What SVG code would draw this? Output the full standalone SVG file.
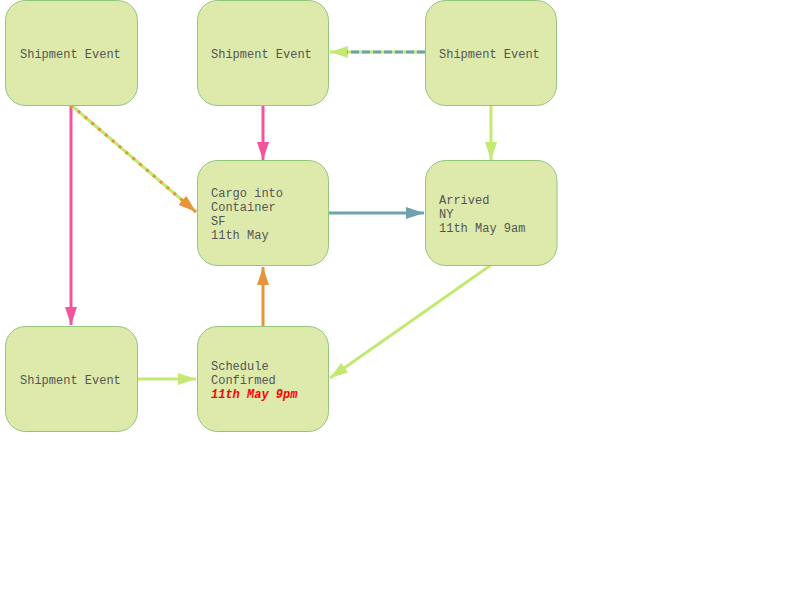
<svg xmlns="http://www.w3.org/2000/svg" width="800" height="600" viewBox="0 0 800 600">
<style>
.node rect{fill:#ddeaac;stroke:#93c57a;stroke-width:1}
.node text{font-family:"Liberation Mono","Courier New",monospace;font-size:12px;fill:#555}
.red{fill:#ff0000 !important;font-weight:bold;font-style:italic}
.e{fill:none;stroke-width:3}
</style>
<defs>
<marker id="aPink" markerUnits="userSpaceOnUse" markerWidth="19" markerHeight="14" refX="18" refY="6" orient="auto"><path d="M0,0 L18,6 L0,12 z" fill="#f2559d"/></marker>
<marker id="aGreen" markerUnits="userSpaceOnUse" markerWidth="19" markerHeight="14" refX="18" refY="6" orient="auto"><path d="M0,0 L18,6 L0,12 z" fill="#c3e972"/></marker>
<marker id="aTeal" markerUnits="userSpaceOnUse" markerWidth="19" markerHeight="14" refX="18" refY="6" orient="auto"><path d="M0,0 L18,6 L0,12 z" fill="#6fa2ad"/></marker>
<marker id="aOrange" markerUnits="userSpaceOnUse" markerWidth="19" markerHeight="14" refX="18" refY="6" orient="auto"><path d="M0,0 L18,6 L0,12 z" fill="#e8943a"/></marker>
</defs>
<rect width="800" height="600" fill="#fff"/>
<g id="connectors">
<line class="e" x1="71" y1="105" x2="71" y2="325" stroke="#f2559d" marker-end="url(#aPink)"/>
<line class="e" x1="71" y1="105" x2="196" y2="212" stroke="#c3e972"/>
<line class="e" x1="71" y1="105" x2="196" y2="212" stroke="#e8943a" stroke-dasharray="3 6" marker-end="url(#aOrange)"/>
<line class="e" x1="263" y1="105" x2="263" y2="160" stroke="#f2559d" marker-end="url(#aPink)"/>
<line class="e" x1="425" y1="52" x2="330" y2="52" stroke="#c3e972" marker-end="url(#aGreen)"/>
<line class="e" x1="425" y1="52" x2="347" y2="52" stroke="#6fa2ad" stroke-dasharray="8 3"/>
<line class="e" x1="491" y1="105" x2="491" y2="160" stroke="#c3e972" marker-end="url(#aGreen)"/>
<line class="e" x1="328" y1="213" x2="424" y2="213" stroke="#6fa2ad" marker-end="url(#aTeal)"/>
<line class="e" x1="491" y1="265" x2="330" y2="378" stroke="#c3e972" stroke-width="2.5" marker-end="url(#aGreen)"/>
<line class="e" x1="137" y1="379" x2="196" y2="379" stroke="#c3e972" marker-end="url(#aGreen)"/>
<line class="e" x1="263" y1="326" x2="263" y2="267" stroke="#e8943a" marker-end="url(#aOrange)"/>
</g>
<g id="n1" class="node"><rect x="5.5" y="0.5" width="132" height="105" rx="20"/><text x="20" y="57.5">Shipment Event</text></g>
<g id="n2" class="node"><rect x="197.5" y="0.5" width="131" height="105" rx="20"/><text x="211" y="57.5">Shipment Event</text></g>
<g id="n3" class="node"><rect x="425.5" y="0.5" width="131" height="105" rx="20"/><text x="439" y="57.5">Shipment Event</text></g>
<g id="n4" class="node"><rect x="197.5" y="160.5" width="131" height="105" rx="20"/><text x="211" y="197">Cargo into</text><text x="211" y="211">Container</text><text x="211" y="225">SF</text><text x="211" y="239">11th May</text></g>
<g id="n5" class="node"><rect x="425.5" y="160.5" width="131.5" height="105" rx="20"/><text x="439" y="204">Arrived</text><text x="439" y="218">NY</text><text x="439" y="232">11th May 9am</text></g>
<g id="n6" class="node"><rect x="5.5" y="326.5" width="132" height="105" rx="20"/><text x="20" y="384">Shipment Event</text></g>
<g id="n7" class="node"><rect x="197.5" y="326.5" width="131" height="105" rx="20"/><text x="211" y="370">Schedule</text><text x="211" y="384">Confirmed</text><text x="211" y="398" class="red">11th May 9pm</text></g>
</svg>
